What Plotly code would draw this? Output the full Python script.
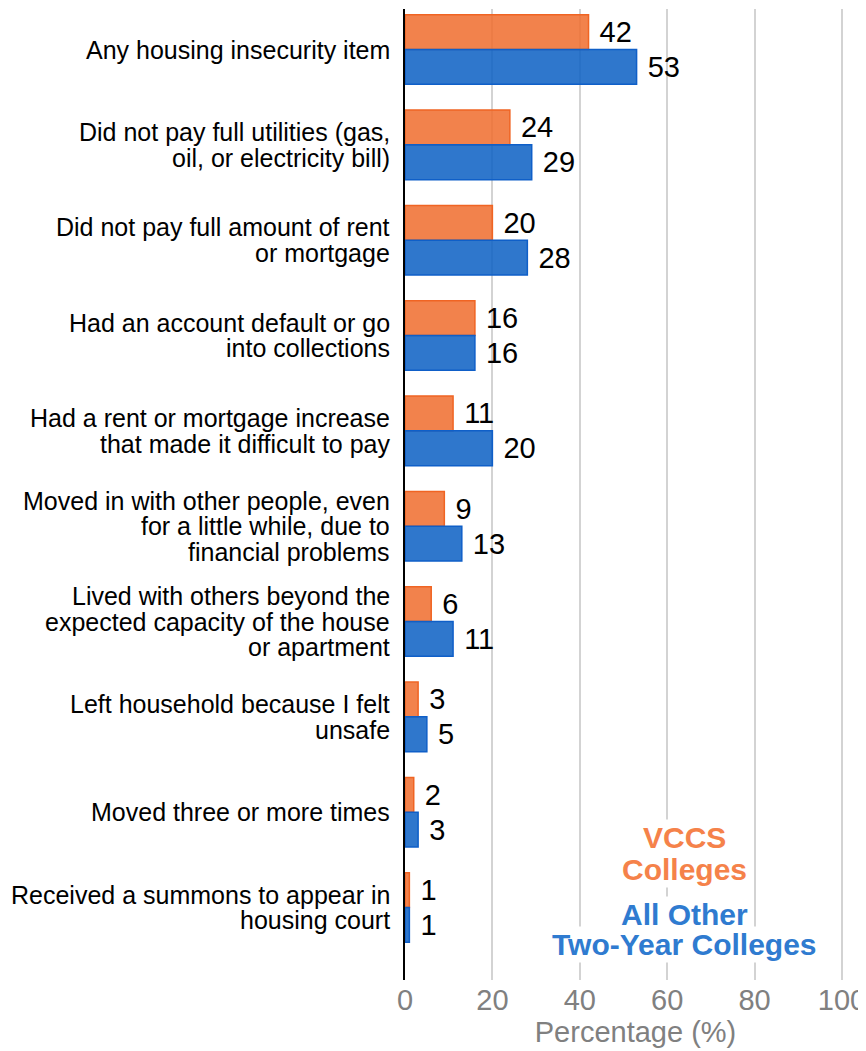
import plotly.graph_objects as go

categories = [
    "Any housing insecurity item",
    "Did not pay full utilities (gas,<br>oil, or electricity bill)",
    "Did not pay full amount of rent<br>or mortgage",
    "Had an account default or go<br>into collections",
    "Had a rent or mortgage increase<br>that made it difficult to pay",
    "Moved in with other people, even<br>for a little while, due to<br>financial problems",
    "Lived with others beyond the<br>expected capacity of the house<br>or apartment",
    "Left household because I felt<br>unsafe",
    "Moved three or more times",
    "Received a summons to appear in<br>housing court",
]
vccs = [42, 24, 20, 16, 11, 9, 6, 3, 2, 1]
other = [53, 29, 28, 16, 20, 13, 11, 5, 3, 1]
x_ticks = [0, 20, 40, 60, 80, 100]
legend_vccs = ["VCCS", "Colleges"]
legend_other = ["All Other", "Two-Year Colleges"]

FONT = "Liberation Sans, Arial, Helvetica, sans-serif"
ORANGE_TXT = "#F5824A"
BLUE_TXT = "#2F7BD0"
LABEL_SIZE = 25
LINE_GAP = 25.5

fig = go.Figure()
fig.add_trace(go.Bar(
    y=categories, x=vccs, orientation="h", name="VCCS Colleges",
    marker=dict(color="rgba(240,108,45,0.85)", line=dict(color="rgb(240,100,35)", width=1.5)),
    text=vccs, texttemplate="\u00a0%{x}", textposition="outside", constraintext="none",
    textfont=dict(size=29, color="black", family=FONT), cliponaxis=False,
))
fig.add_trace(go.Bar(
    y=categories, x=other, orientation="h", name="All Other Two-Year Colleges",
    marker=dict(color="rgba(10,95,195,0.85)", line=dict(color="rgb(15,95,200)", width=1.5)),
    text=other, texttemplate="\u00a0%{x}", textposition="outside", constraintext="none",
    textfont=dict(size=29, color="black", family=FONT), cliponaxis=False,
))

annotations = []
# category labels, one line per annotation for tight line spacing
for cat in categories:
    lines = cat.split("<br>")
    n = len(lines)
    for j, line in enumerate(lines):
        annotations.append(dict(
            text=line, xref="paper", yref="y", x=0, y=cat,
            xanchor="right", yanchor="middle", xshift=-13,
            yshift=((n - 1) / 2 - j) * LINE_GAP,
            showarrow=False, font=dict(size=LABEL_SIZE, color="black"),
        ))

# legend block (text lines with white background covering the gridlines)
for lines, color, ys in [(legend_vccs, ORANGE_TXT, [0.1465, 0.1135]),
                         (legend_other, BLUE_TXT, [0.0675, 0.0365])]:
    for line, yy in zip(lines, ys):
        annotations.append(dict(
            text="<b>" + line + "</b>", xref="x", yref="paper", x=64, y=yy,
            xanchor="center", yanchor="middle", showarrow=False,
            font=dict(size=30, color=color), bgcolor="white",
        ))

fig.update_layout(
    width=858, height=1043,
    margin=dict(l=397, r=0, t=1, b=71, autoexpand=False),
    barmode="group", bargap=0.27, bargroupgap=0,
    plot_bgcolor="white", paper_bgcolor="white",
    showlegend=False,
    font=dict(family=FONT, color="black"),
    xaxis=dict(
        range=[0, 105.5], tickvals=x_ticks, showgrid=True, gridcolor="#d3d3d3", gridwidth=2,
        zeroline=False, showline=False, automargin=False, ticklabeloverflow="allow",
        tickfont=dict(size=29, color="#808080"), ticklabelstandoff=0,
        title=dict(text="Percentage (%)", font=dict(size=29, color="#808080"), standoff=0),
    ),
    yaxis=dict(
        categoryorder="array", categoryarray=categories,
        range=[9.76, -0.425], showgrid=False, zeroline=False,
        showline=True, linecolor="black", linewidth=2,
        showticklabels=False, automargin=False,
    ),
    annotations=annotations,
)

fig.write_html("out.html")
